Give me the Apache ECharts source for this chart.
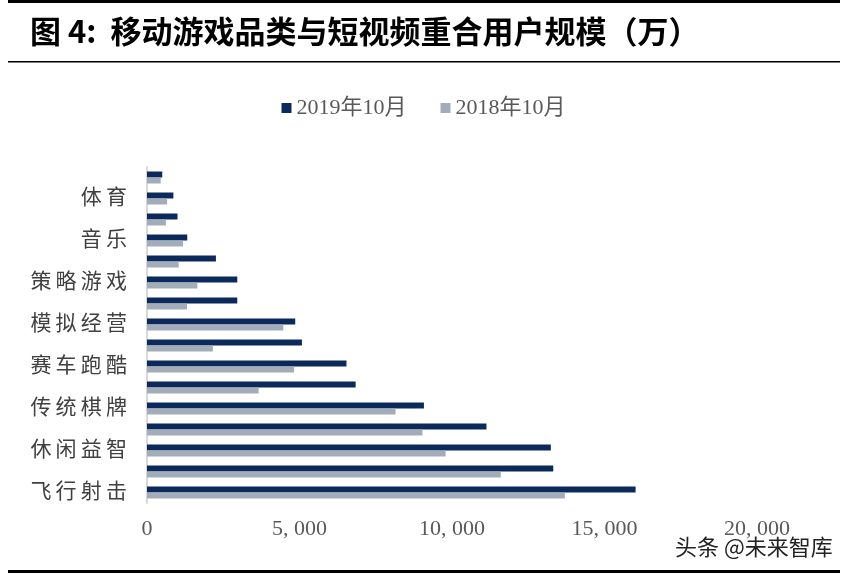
<!DOCTYPE html>
<html>
<head>
<meta charset="utf-8">
<script src="https://cdn.jsdelivr.net/npm/echarts@6/dist/echarts.min.js"></script>
<style>
html,body{margin:0;padding:0;background:#fff;}
#chart{width:847px;height:575px;}
</style>
</head>
<body>
<div id="chart"></div>
<script>
// categories bottom -> top (hidden labels in between)
const categories = ['飞行射击','角色扮演','休闲益智','动作冒险','传统棋牌','卡牌','赛车跑酷','益智解谜','模拟经营','射击','策略游戏','养成','音乐','冒险','体育','桌游'];
const series2019 = [16020,13320,13240,11130,9080,6840,6540,5080,4860,2960,2960,2260,1320,1000,865,500];
const series2018 = [13700,11600,9790,9030,8150,3660,4820,2160,4470,1310,1650,1040,1180,620,660,450];
const seriesNames = ['2019年10月','2018年10月'];
const xTicks = [0,5000,10000,15000,20000];

const chart = echarts.init(document.getElementById('chart'));
const serifFont = '"Liberation Serif","Noto Sans CJK SC",serif';
chart.setOption({
  animation:false,
  backgroundColor:'#fff',
  graphic:[
    {type:'rect',shape:{x:8,y:0,width:832,height:3},style:{fill:'#000'}},
    {type:'text',left:30,top:16,style:{text:'图 4:  移动游戏品类与短视频重合用户规模（万）',font:'bold 31px "Noto Sans CJK SC"',fill:'#000'}},
    {type:'rect',shape:{x:8,y:61,width:832,height:1.5},style:{fill:'#000'}},
    {type:'rect',shape:{x:8,y:570,width:832,height:3},style:{fill:'#000'}},
    {type:'text',left:674,top:535,style:{text:'头条 @未来智库',font:'22px "Noto Sans CJK SC"',fill:'#222',stroke:'#fff',lineWidth:2}}
  ],
  legend:{
    top:92,left:'center',itemWidth:10,itemHeight:10,itemGap:34,
    icon:'rect',
    textStyle:{fontFamily:serifFont,fontSize:22,color:'#595959'},
    data:seriesNames
  },
  grid:{left:147,right:90,top:167,bottom:72,containLabel:false},
  xAxis:{
    type:'value',min:0,max:20000,interval:5000,
    axisLine:{show:false},axisTick:{show:false},splitLine:{show:false},
    axisLabel:{margin:15,fontFamily:serifFont,fontSize:22,color:'#595959',
      formatter:v=>v===0?'0':(Math.floor(v/1000)+', '+String(v%1000).padStart(3,'0'))}
  },
  yAxis:{
    type:'category',data:categories,
    axisLine:{show:true,lineStyle:{color:'#d9d9d9',width:2}},
    axisTick:{show:false},
    axisLabel:{interval:1,margin:20,fontFamily:serifFont,fontSize:21,color:'#404040',
      padding:[5,0,0,0],
      formatter:v=>v.split('').join('\u2009')}
  },
  series:[
    {name:seriesNames[0],type:'bar',data:series2019,barWidth:6,barGap:'0%',itemStyle:{color:'#0b2a5b'}},
    {name:seriesNames[1],type:'bar',data:series2018,barWidth:6,barGap:'0%',itemStyle:{color:'#a3adba'}}
  ]
});
</script>
</body>
</html>
